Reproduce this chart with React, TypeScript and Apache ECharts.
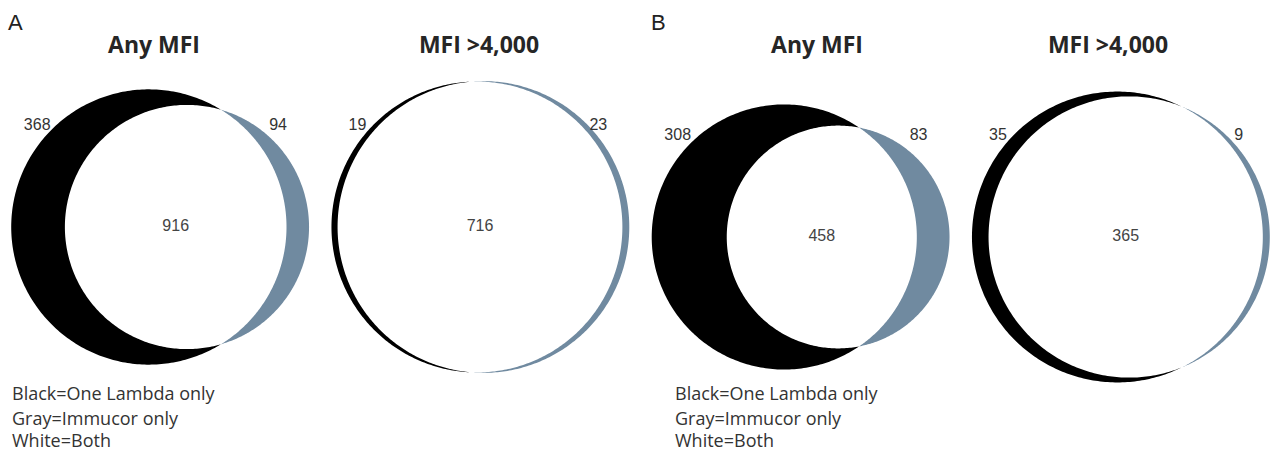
import React, { useEffect, useRef } from "react";
import * as echarts from "echarts";

// ---- data ----
const panels = ["A: Any MFI", "A: MFI >4,000", "B: Any MFI", "B: MFI >4,000"];
const panelTitles = ["Any MFI", "MFI >4,000", "Any MFI", "MFI >4,000"];
const oneLambdaOnly = [368, 19, 308, 35];
const immucorOnly = [94, 23, 83, 9];
const bothVendors = [916, 716, 458, 365];
const panelLetters = ["A", "B"];
const legendLines = ["Black=One Lambda only", "Gray=Immucor only", "White=Both"];

// ---- layout / style ----
const W = 1281;
const H = 452;
const panelCy = [227, 227, 237, 237];
const titleX = [154, 479, 817, 1108];
const titleY = 44;
const letterX = [8, 651];
const legendX = [12, 675];
const legendY = [393, 418, 440];
const labelDy = -103;
const labelInsetL = 26;
const labelInsetR = 31;
const BLACK = "#000000";
const GRAY = "#708aa0";

function lensArea(r1: number, r2: number, d: number) {
  if (d >= r1 + r2) return 0;
  if (d <= Math.abs(r1 - r2)) return Math.PI * Math.min(r1, r2) ** 2;
  const a1 = r1 * r1 * Math.acos((d * d + r1 * r1 - r2 * r2) / (2 * d * r1));
  const a2 = r2 * r2 * Math.acos((d * d + r2 * r2 - r1 * r1) / (2 * d * r2));
  const k =
    0.5 *
    Math.sqrt((-d + r1 + r2) * (d + r1 - r2) * (d - r1 + r2) * (d + r1 + r2));
  return a1 + a2 - k;
}

function solveD(r1: number, r2: number, target: number) {
  let lo = Math.abs(r1 - r2);
  let hi = r1 + r2;
  for (let i = 0; i < 200; i++) {
    const mid = (lo + hi) / 2;
    if (lensArea(r1, r2, mid) > target) lo = mid;
    else hi = mid;
  }
  return (lo + hi) / 2;
}

function arc(cx: number, cy: number, r: number, from: number, to: number, n: number) {
  const out: number[][] = [];
  for (let k = 0; k <= n; k++) {
    const p = from + ((to - from) * k) / n;
    out.push([cx + r * Math.cos(p), cy + r * Math.sin(p)]);
  }
  return out;
}

function renderItem(params: any, api: any) {
  const i = params.dataIndex;
  const a1 = oneLambdaOnly[i] + bothVendors[i];
  const a2 = immucorOnly[i] + bothVendors[i];
  const r1 = Math.sqrt(a1 / Math.PI);
  const r2 = Math.sqrt(a2 / Math.PI);
  const d = solveD(r1, r2, bothVendors[i]);
  const minX = Math.min(-r1, d - r2);
  const maxX = Math.max(r1, d + r2);
  const pt = api.coord([api.value(0), 0]);
  const band = api.size([1, 0])[0];
  const width = band * 0.93;
  const s = width / (maxX - minX);
  const cy = panelCy[i];
  const bboxL = pt[0] - width / 2;
  const bboxR = pt[0] + width / 2;
  const c1x = bboxL - minX * s;
  const c2x = c1x + d * s;
  const R1 = r1 * s;
  const R2 = r2 * s;

  const a = (d * d + r1 * r1 - r2 * r2) / (2 * d);
  const h = Math.sqrt(Math.max(0, r1 * r1 - a * a));
  const t1 = Math.atan2(h, a);
  const t2 = Math.atan2(h, a - d);
  const N = 240;

  const lens = arc(c1x, cy, R1, -t1, t1, N).concat(
    arc(c2x, cy, R2, t2, 2 * Math.PI - t2, N)
  );
  const blackCrescent = arc(c1x, cy, R1, t1, 2 * Math.PI - t1, N).concat(
    arc(c2x, cy, R2, 2 * Math.PI - t2, t2, N)
  );
  const grayCrescent = arc(c2x, cy, R2, -t2, t2, N).concat(
    arc(c1x, cy, R1, t1, -t1, N)
  );

  const lensCx = (c2x - R2 + (c1x + R1)) / 2;
  const ly = cy + labelDy;

  const numStyle = (txt: string, fill: string) => ({
    text: txt,
    fill,
    fontSize: 16,
    fontFamily: '"Liberation Sans", Arial, sans-serif',
    align: "center",
    verticalAlign: "middle",
    textAlign: "center",
    textVerticalAlign: "middle",
  });

  return {
    type: "group",
    children: [
      { type: "polygon", shape: { points: lens }, style: { fill: "#ffffff" } },
      { type: "polygon", shape: { points: blackCrescent }, style: { fill: BLACK } },
      { type: "polygon", shape: { points: grayCrescent }, style: { fill: GRAY } },
      {
        type: "text",
        x: bboxL + labelInsetL,
        y: ly,
        style: numStyle(String(oneLambdaOnly[i]), "#333333"),
      },
      {
        type: "text",
        x: bboxR - labelInsetR,
        y: ly,
        style: numStyle(String(immucorOnly[i]), "#333333"),
      },
      {
        type: "text",
        x: lensCx,
        y: cy - 2,
        style: numStyle(String(bothVendors[i]), "#444444"),
      },
    ],
  };
}

export default function App() {
  const ref = useRef<HTMLDivElement>(null);
  useEffect(() => {
    if (!ref.current) return;
    const chart = echarts.init(ref.current, undefined, { renderer: "svg" });
    const graphics: any[] = [];
    panelLetters.forEach((L, k) => {
      graphics.push({
        type: "text",
        x: letterX[k],
        y: 22,
        style: {
          text: L,
          fill: "#222222",
          fontSize: 22,
          fontFamily: '"Liberation Sans", Arial, sans-serif',
          align: "left",
          verticalAlign: "middle",
          textAlign: "left",
          textVerticalAlign: "middle",
        },
      });
    });
    panelTitles.forEach((t, k) => {
      graphics.push({
        type: "text",
        x: titleX[k],
        y: titleY,
        style: {
          text: t,
          fill: "#262626",
          fontSize: 23,
          fontWeight: "bold",
          fontFamily: '"Open Sans", sans-serif',
          align: "center",
          verticalAlign: "middle",
          textAlign: "center",
          textVerticalAlign: "middle",
        },
      });
    });
    legendX.forEach((lx) => {
      legendLines.forEach((line, j) => {
        graphics.push({
          type: "text",
          x: lx,
          y: legendY[j],
          style: {
            text: line,
            fill: "#333333",
            fontSize: 18,
            fontFamily: '"Open Sans", sans-serif',
            align: "left",
            verticalAlign: "middle",
            textAlign: "left",
            textVerticalAlign: "middle",
          },
        });
      });
    });

    chart.setOption({
      animation: false,
      backgroundColor: "#ffffff",
      grid: { left: 0, top: 0, width: 1287, height: H },
      xAxis: { type: "category", data: panels, show: false },
      yAxis: { type: "value", min: 0, max: 1, show: false },
      series: [
        {
          type: "custom",
          coordinateSystem: "cartesian2d",
          renderItem,
          silent: true,
          clip: false,
          data: panels.map((_, i) => [i, 0]),
        },
      ],
      graphic: { elements: graphics },
    });
    return () => chart.dispose();
  }, []);
  return (
    <div
      ref={ref}
      style={{ position: "fixed", left: 0, top: 0, width: W, height: H }}
    />
  );
}
